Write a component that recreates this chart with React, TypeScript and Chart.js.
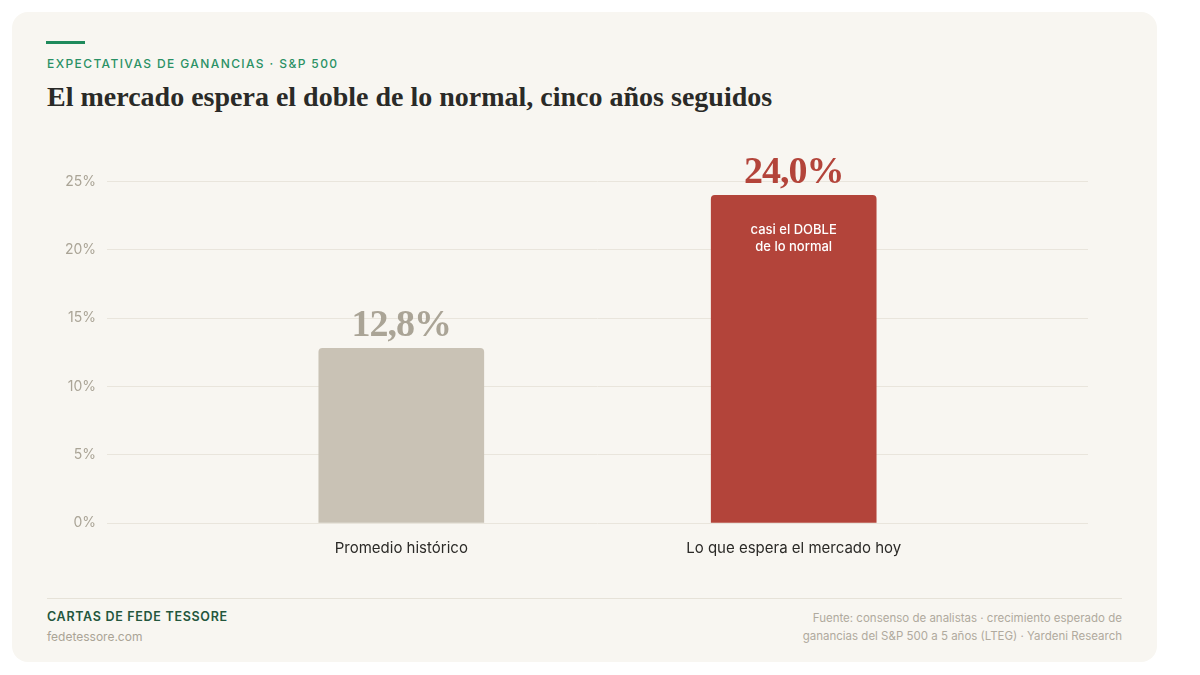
import React, { useEffect, useRef } from "react";
import { Chart, registerables } from "chart.js";

Chart.register(...registerables);

// Five-year expected EPS growth for the S&P 500
const categories = ["Promedio histórico", "Lo que espera el mercado hoy"];
const categoryPositions = [0, 1];
const growthValues = [12.8, 24.0];
const valueLabels = ["12,8%", "24,0%"];
const barColors = ["#c9c2b5", "#b3443a"];
const valueLabelColors = ["#aaa496", "#b3443a"];
const highlightNote = ["casi el DOBLE", "de lo normal"];
const yTickStep = 5;
const yAxisMax = 27;

const SANS = "Inter, 'Noto Sans', sans-serif";
const SERIF = "'Liberation Serif', 'DejaVu Serif', serif";

const barLabelsPlugin = {
  id: "barLabels",
  afterDatasetsDraw(chart: any) {
    const { ctx } = chart;
    const meta = chart.getDatasetMeta(0);
    meta.data.forEach((bar: any, i: number) => {
      ctx.save();
      ctx.textAlign = "center";
      ctx.textBaseline = "alphabetic";
      ctx.fillStyle = valueLabelColors[i];
      ctx.font = `bold 38px ${SERIF}`;
      (ctx as any).letterSpacing = "-1px";
      ctx.fillText(valueLabels[i], bar.x, bar.y - 12);
      ctx.restore();
    });
    const hi = meta.data[1];
    if (hi) {
      ctx.save();
      ctx.textAlign = "center";
      ctx.textBaseline = "middle";
      ctx.fillStyle = "#ffffff";
      ctx.font = `500 13px ${SANS}`;
      highlightNote.forEach((line, k) => {
        ctx.fillText(line, hi.x, hi.y + 35 + k * 17);
      });
      ctx.restore();
    }
  },
};

function EarningsChart() {
  const canvasRef = useRef<HTMLCanvasElement | null>(null);

  useEffect(() => {
    if (!canvasRef.current) return;
    const chart = new Chart(canvasRef.current, {
      type: "bar",
      data: {
        datasets: [
          {
            data: categoryPositions.map((x, i) => ({ x, y: growthValues[i] })),
            backgroundColor: barColors,
            borderRadius: 4,
            borderSkipped: "bottom",
            barThickness: 165,
          },
        ],
      },
      options: {
        animation: false,
        responsive: true,
        maintainAspectRatio: false,
        layout: { padding: 0 },
        plugins: {
          legend: { display: false },
          tooltip: { enabled: false },
        },
        scales: {
          x: {
            type: "linear",
            min: -0.75,
            max: 1.75,
            offset: false,
            grid: { display: false, drawTicks: false },
            border: { display: false },
            ticks: {
              stepSize: 1,
              includeBounds: false,
              padding: 16,
              color: "#2b2a27",
              font: { family: SANS, size: 15 },
              callback: (v: any) => categories[v] ?? "",
            },
            afterFit: (scale: any) => {
              scale.height = 56;
            },
          },
          y: {
            min: 0,
            max: yAxisMax,
            grid: { color: "#e9e5dc", lineWidth: 1, drawTicks: false },
            border: { display: false },
            ticks: {
              stepSize: yTickStep,
              includeBounds: false,
              padding: 11,
              color: "#aaa496",
              font: { family: SANS, size: 14 },
              callback: (v: any) => `${v}%`,
            },
            afterFit: (scale: any) => {
              scale.width = 60;
            },
          },
        },
      },
      plugins: [barLabelsPlugin],
    });
    return () => chart.destroy();
  }, []);

  return <canvas ref={canvasRef} />;
}

export default function App() {
  return (
    <div
      style={{
        position: "absolute",
        left: 12,
        top: 12,
        width: 1145,
        height: 650,
        background: "#f8f6f1",
        borderRadius: 16,
        fontFamily: SANS,
      }}
    >
      <div
        style={{
          position: "absolute",
          left: 34,
          top: 29,
          width: 39,
          height: 3,
          background: "#1f8a5c",
        }}
      />
      <div
        style={{
          position: "absolute",
          left: 35,
          top: 44,
          height: 16,
          lineHeight: "16px",
          fontSize: 12,
          fontWeight: 500,
          letterSpacing: 1.4,
          color: "#2a9165",
          whiteSpace: "nowrap",
        }}
      >
        EXPECTATIVAS DE GANANCIAS · S&amp;P 500
      </div>
      <div
        style={{
          position: "absolute",
          left: 35,
          top: 68,
          height: 34,
          lineHeight: "34px",
          fontFamily: SERIF,
          fontSize: 28,
          fontWeight: 700,
          color: "#2a2a27",
          whiteSpace: "nowrap",
        }}
      >
        El mercado espera el doble de lo normal, cinco años seguidos
      </div>

      <div
        style={{
          position: "absolute",
          left: 35,
          top: 123,
          width: 1041,
          height: 444,
        }}
      >
        <EarningsChart />
      </div>

      <div
        style={{
          position: "absolute",
          left: 35,
          top: 586,
          width: 1075,
          height: 1,
          background: "#e6e2d8",
        }}
      />
      <div
        style={{
          position: "absolute",
          left: 35,
          top: 596,
          height: 18,
          lineHeight: "18px",
          fontSize: 12.5,
          fontWeight: 600,
          letterSpacing: 0.7,
          color: "#24563d",
          whiteSpace: "nowrap",
        }}
      >
        CARTAS DE FEDE TESSORE
      </div>
      <div
        style={{
          position: "absolute",
          left: 35,
          top: 617,
          height: 16,
          lineHeight: "16px",
          fontSize: 12,
          color: "#aaa496",
          whiteSpace: "nowrap",
        }}
      >
        fedetessore.com
      </div>
      <div
        style={{
          position: "absolute",
          right: 35,
          top: 597,
          lineHeight: "18px",
          fontSize: 11.5,
          color: "#b0aa9e",
          textAlign: "right",
          whiteSpace: "nowrap",
        }}
      >
        Fuente: consenso de analistas · crecimiento esperado de
        <br />
        ganancias del S&amp;P 500 a 5 años (LTEG) · Yardeni Research
      </div>
    </div>
  );
}
